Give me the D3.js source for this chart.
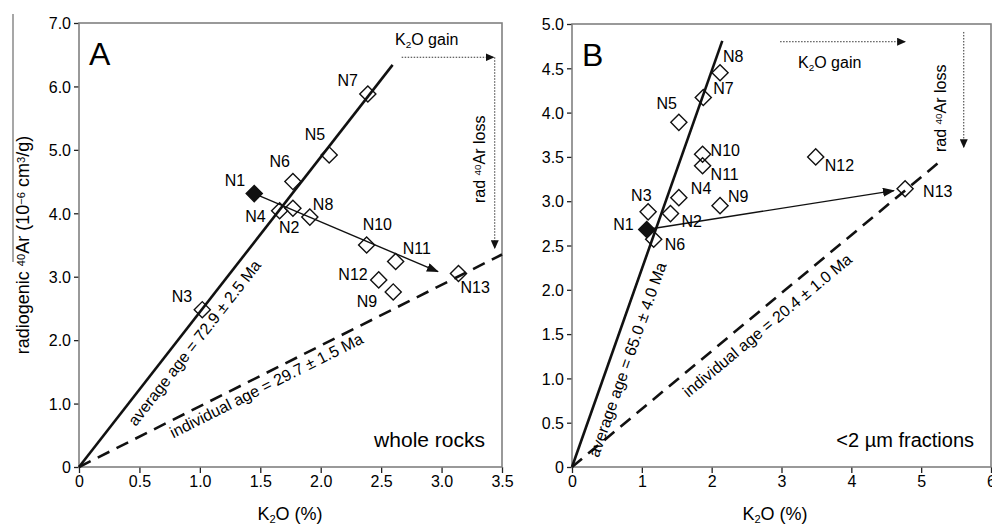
<!DOCTYPE html>
<html>
<head>
<meta charset="utf-8">
<script src="https://cdn.jsdelivr.net/npm/d3@7"></script>
<style>
  html, body { margin: 0; padding: 0; background: #fff; }
  svg text { font-family: "Liberation Sans", Arial, sans-serif; fill: #000; }
</style>
</head>
<body>
<div id="chart"></div>
<script>
// --- Data ---
const samples = ["N1", "N2", "N3", "N4", "N5", "N6", "N7", "N8", "N9", "N10", "N11", "N12", "N13"];

// Panel A: whole rocks
const k2oA = [1.45, 1.77, 1.02, 1.66, 2.07, 1.77, 2.39, 1.91, 2.60, 2.38, 2.62, 2.48, 3.14];
const arA = [4.31, 4.08, 2.48, 4.04, 4.92, 4.50, 5.88, 3.94, 2.76, 3.50, 3.24, 2.95, 3.05];

// Panel B: <2 µm fractions
const k2oB = [1.07, 1.41, 1.09, 1.53, 1.53, 1.17, 1.88, 2.12, 2.12, 1.87, 1.87, 3.49, 4.77];
const arB = [2.68, 2.86, 2.88, 3.04, 3.89, 2.57, 4.17, 4.45, 2.95, 3.53, 3.40, 3.50, 3.14];

// Reference lines (data coordinates)
const avgLineA = [[0, 0], [2.595, 6.34]];
const indLineA = [[0, 0], [3.5, 3.35]];
const trendA = [[1.45, 4.31], [2.97, 3.08]];
const gainA = [[2.67, 6.46], [3.43, 6.46]];
const lossA = [[3.44, 6.46], [3.44, 3.45]];

const avgLineB = [[0, 0], [2.152, 4.81]];
const indLineB = [[0, 0], [5.295, 3.465]];
const trendB = [[1.07, 2.68], [4.61, 3.12]];
const gainB = [[2.98, 4.8], [4.77, 4.8]];
const lossB = [[5.61, 4.91], [5.61, 3.61]];

// Ticks
const xTicksA = [0, 0.5, 1, 1.5, 2, 2.5, 3, 3.5];
const yTicksA = [0, 1, 2, 3, 4, 5, 6, 7];
const xTicksB = [0, 1, 2, 3, 4, 5, 6];
const yTicksB = [0, 0.5, 1, 1.5, 2, 2.5, 3, 3.5, 4, 4.5, 5];

// Label offsets from each diamond (px): [dx, dy, anchor]
const labelPosA = {
  N1: [-9, -8, "end"], N2: [-14, 25, "start"], N3: [-10, -8, "end"], N4: [-14, 11, "end"],
  N5: [-4, -15, "end"], N6: [-3, -15, "end"], N7: [-10, -8, "end"], N8: [3, -7, "start"],
  N9: [-16, 15, "end"], N10: [-4, -15, "start"], N11: [7, -7, "start"], N12: [-11, 0, "end"],
  N13: [2, 19, "start"],
};
const labelPosB = {
  N1: [-13, 0, "end"], N2: [11, 13, "start"], N3: [-17, -11, "start"], N4: [12, -4, "start"],
  N5: [-2, -13, "end"], N6: [11, 11, "start"], N7: [10, -4, "start"], N8: [3, -11, "start"],
  N9: [8, -4, "start"], N10: [8, 2, "start"], N11: [8, 14, "start"], N12: [9, 14, "start"],
  N13: [18, 8, "start"],
};

// --- SVG setup ---
const W = 992, H = 532;
const svg = d3.select("#chart").append("svg").attr("width", W).attr("height", H);
svg.append("rect").attr("width", W).attr("height", H).attr("fill", "#fff");

const defs = svg.append("defs");
defs.append("marker")
  .attr("id", "headBig").attr("markerUnits", "userSpaceOnUse")
  .attr("markerWidth", 12).attr("markerHeight", 9).attr("refX", 11).attr("refY", 4.5)
  .attr("orient", "auto")
  .append("path").attr("d", "M0,0 L12,4.5 L0,9 Z").attr("fill", "#111");
defs.append("marker")
  .attr("id", "headSmall").attr("markerUnits", "userSpaceOnUse")
  .attr("markerWidth", 9).attr("markerHeight", 8).attr("refX", 8).attr("refY", 4)
  .attr("orient", "auto")
  .append("path").attr("d", "M0,0 L9,4 L0,8 Z").attr("fill", "#111");

// stray scan edge on the far left
svg.append("line").attr("x1", 13).attr("x2", 13).attr("y1", 14).attr("y2", 262)
  .attr("stroke", "#8a8a8a").attr("stroke-width", 1.5);

// helper: append text with sub/superscript runs: parts = [[text, "sup"|"sub"|null], ...]
function richText(sel, parts, size) {
  parts.forEach(([t, kind]) => {
    const ts = sel.append("tspan").text(t);
    if (kind === "sup") ts.attr("font-size", size * 0.62).attr("baseline-shift", "40%");
    if (kind === "sub") ts.attr("font-size", size * 0.62).attr("baseline-shift", "-25%");
  });
  return sel;
}

function drawPanel(cfg) {
  const x = d3.scaleLinear().domain(cfg.xDomain).range(cfg.xRange);
  const y = d3.scaleLinear().domain(cfg.yDomain).range(cfg.yRange);
  const g = svg.append("g");
  const line = d3.line().x((d) => x(d[0])).y((d) => y(d[1]));

  // axes
  const xAxis = g.append("g").attr("transform", `translate(0,${cfg.yRange[0]})`)
    .call(d3.axisBottom(x).tickValues(cfg.xTicks).tickSize(6).tickPadding(3).tickFormat(cfg.xFmt));
  const yAxis = g.append("g").attr("transform", `translate(${cfg.xRange[0]},0)`)
    .call(d3.axisLeft(y).tickValues(cfg.yTicks).tickSize(5).tickPadding(3).tickFormat(cfg.yFmt));
  [xAxis, yAxis].forEach((a) => {
    a.select(".domain").remove();
    a.selectAll(".tick line").attr("stroke", "#222").attr("stroke-width", 1.3);
    a.selectAll(".tick text").attr("font-size", 16).attr("fill", "#000")
      .attr("font-family", '"Liberation Sans", Arial, sans-serif');
  });
  yAxis.selectAll(".tick text").attr("dy", "0.36em");

  // frame
  g.append("rect")
    .attr("x", cfg.xRange[0]).attr("y", cfg.yRange[1])
    .attr("width", cfg.xRange[1] - cfg.xRange[0]).attr("height", cfg.yRange[0] - cfg.yRange[1])
    .attr("fill", "none").attr("stroke", "#808080").attr("stroke-width", 1.6);

  // reference lines
  g.append("path").attr("d", line(cfg.avgLine)).attr("stroke", "#111").attr("stroke-width", 2.6).attr("fill", "none");
  g.append("path").attr("d", line(cfg.indLine)).attr("stroke", "#111").attr("stroke-width", 2.6)
    .attr("stroke-dasharray", "13,8").attr("fill", "none");
  g.append("path").attr("d", line(cfg.trend)).attr("stroke", "#111").attr("stroke-width", 1.4)
    .attr("fill", "none").attr("marker-end", "url(#headBig)");
  [cfg.gain, cfg.loss].forEach((seg) => {
    g.append("path").attr("d", line(seg)).attr("stroke", "#333").attr("stroke-width", 1)
      .attr("stroke-dasharray", "1.5,1.5").attr("fill", "none").attr("marker-end", "url(#headSmall)");
  });

  // sample diamonds
  const pts = samples.map((s, i) => ({ s, k: cfg.k2o[i], ar: cfg.ar[i] }));
  const diamond = d3.symbol(d3.symbolSquare, 130);
  g.selectAll(".pt").data(pts).join("path")
    .attr("class", "pt")
    .attr("d", diamond)
    .attr("transform", (d) => `translate(${x(d.k)},${y(d.ar)}) rotate(45)`)
    .attr("fill", (d) => (d.s === "N1" ? "#111" : "none"))
    .attr("stroke", "#111").attr("stroke-width", 1.4);

  g.selectAll(".lbl").data(pts).join("text")
    .attr("class", "lbl")
    .attr("x", (d) => x(d.k) + cfg.labelPos[d.s][0])
    .attr("y", (d) => y(d.ar) + cfg.labelPos[d.s][1])
    .attr("text-anchor", (d) => cfg.labelPos[d.s][2])
    .attr("font-size", 16)
    .text((d) => d.s);

  // age annotations along the lines
  const angleOf = (seg) =>
    (Math.atan2(y(seg[1][1]) - y(seg[0][1]), x(seg[1][0]) - x(seg[0][0])) * 180) / Math.PI;
  g.append("text")
    .attr("transform", `translate(${x(cfg.avgText[0])},${y(cfg.avgText[1])}) rotate(${angleOf(cfg.avgLine)})`)
    .attr("font-size", 16).text(cfg.avgLabel);
  g.append("text")
    .attr("transform", `translate(${x(cfg.indText[0])},${y(cfg.indText[1])}) rotate(${angleOf(cfg.indLine)})`)
    .attr("font-size", 16).text(cfg.indLabel);

  // K2O gain / rad 40Ar loss
  richText(g.append("text").attr("x", cfg.gainText[0]).attr("y", cfg.gainText[1]).attr("font-size", 16),
    [["K", null], ["2", "sub"], ["O gain", null]], 16);
  richText(g.append("text")
    .attr("transform", `translate(${cfg.lossText[0]},${cfg.lossText[1]}) rotate(-90)`).attr("font-size", 16),
    [["rad ", null], ["40", "sup"], ["Ar loss", null]], 16);

  // panel letter and caption
  g.append("text").attr("x", cfg.xRange[0] + 10).attr("y", cfg.yRange[1] + 42)
    .attr("font-size", 32).text(cfg.letter);
  g.append("text").attr("x", cfg.xRange[1] - 17).attr("y", cfg.yRange[0] - 20)
    .attr("text-anchor", "end").attr("font-size", cfg.captionSize).text(cfg.caption);

  // x-axis title
  richText(g.append("text").attr("x", cfg.xTitleX).attr("y", 520).attr("text-anchor", "middle").attr("font-size", 18),
    [["K", null], ["2", "sub"], ["O (%)", null]], 18);

  return { x, y };
}

const fmt1 = (d) => (d === 0 ? "0" : d3.format(".1f")(d));

drawPanel({
  letter: "A", caption: "whole rocks", captionSize: 21,
  xDomain: [0, 3.5], xRange: [79, 502], yDomain: [0, 7], yRange: [467, 23],
  xTicks: xTicksA, yTicks: yTicksA, xFmt: fmt1, yFmt: fmt1,
  k2o: k2oA, ar: arA, labelPos: labelPosA,
  avgLine: avgLineA, indLine: indLineA, trend: trendA, gain: gainA, loss: lossA,
  avgText: [0.47, 0.63], avgLabel: "average age = 72.9 \u00b1 2.5 Ma",
  indText: [0.78, 0.45], indLabel: "individual age = 29.7 \u00b1 1.5 Ma",
  gainText: [395, 45], lossText: [485, 203], xTitleX: 290,
});

drawPanel({
  letter: "B", caption: "<2 \u00b5m fractions", captionSize: 20,
  xDomain: [0, 6], xRange: [572, 991], yDomain: [0, 5], yRange: [467, 24],
  xTicks: xTicksB, yTicks: yTicksB, xFmt: d3.format("d"), yFmt: fmt1,
  k2o: k2oB, ar: arB, labelPos: labelPosB,
  avgLine: avgLineB, indLine: indLineB, trend: trendB, gain: gainB, loss: lossB,
  avgText: [0.38, 0.1], avgLabel: "average age = 65.0 \u00b1 4.0 Ma",
  indText: [1.67, 0.78], indLabel: "individual age = 20.4 \u00b1 1.0 Ma",
  gainText: [798, 68], lossText: [946, 152], xTitleX: 775,
});

// y-axis title (panel A)
richText(svg.append("text").attr("transform", "translate(29,245) rotate(-90)")
  .attr("text-anchor", "middle").attr("font-size", 18),
  [["radiogenic ", null], ["40", "sup"], ["Ar (10", null], ["\u22126", "sup"], [" cm", null], ["3", "sup"], ["/g)", null]], 18);
</script>
</body>
</html>
